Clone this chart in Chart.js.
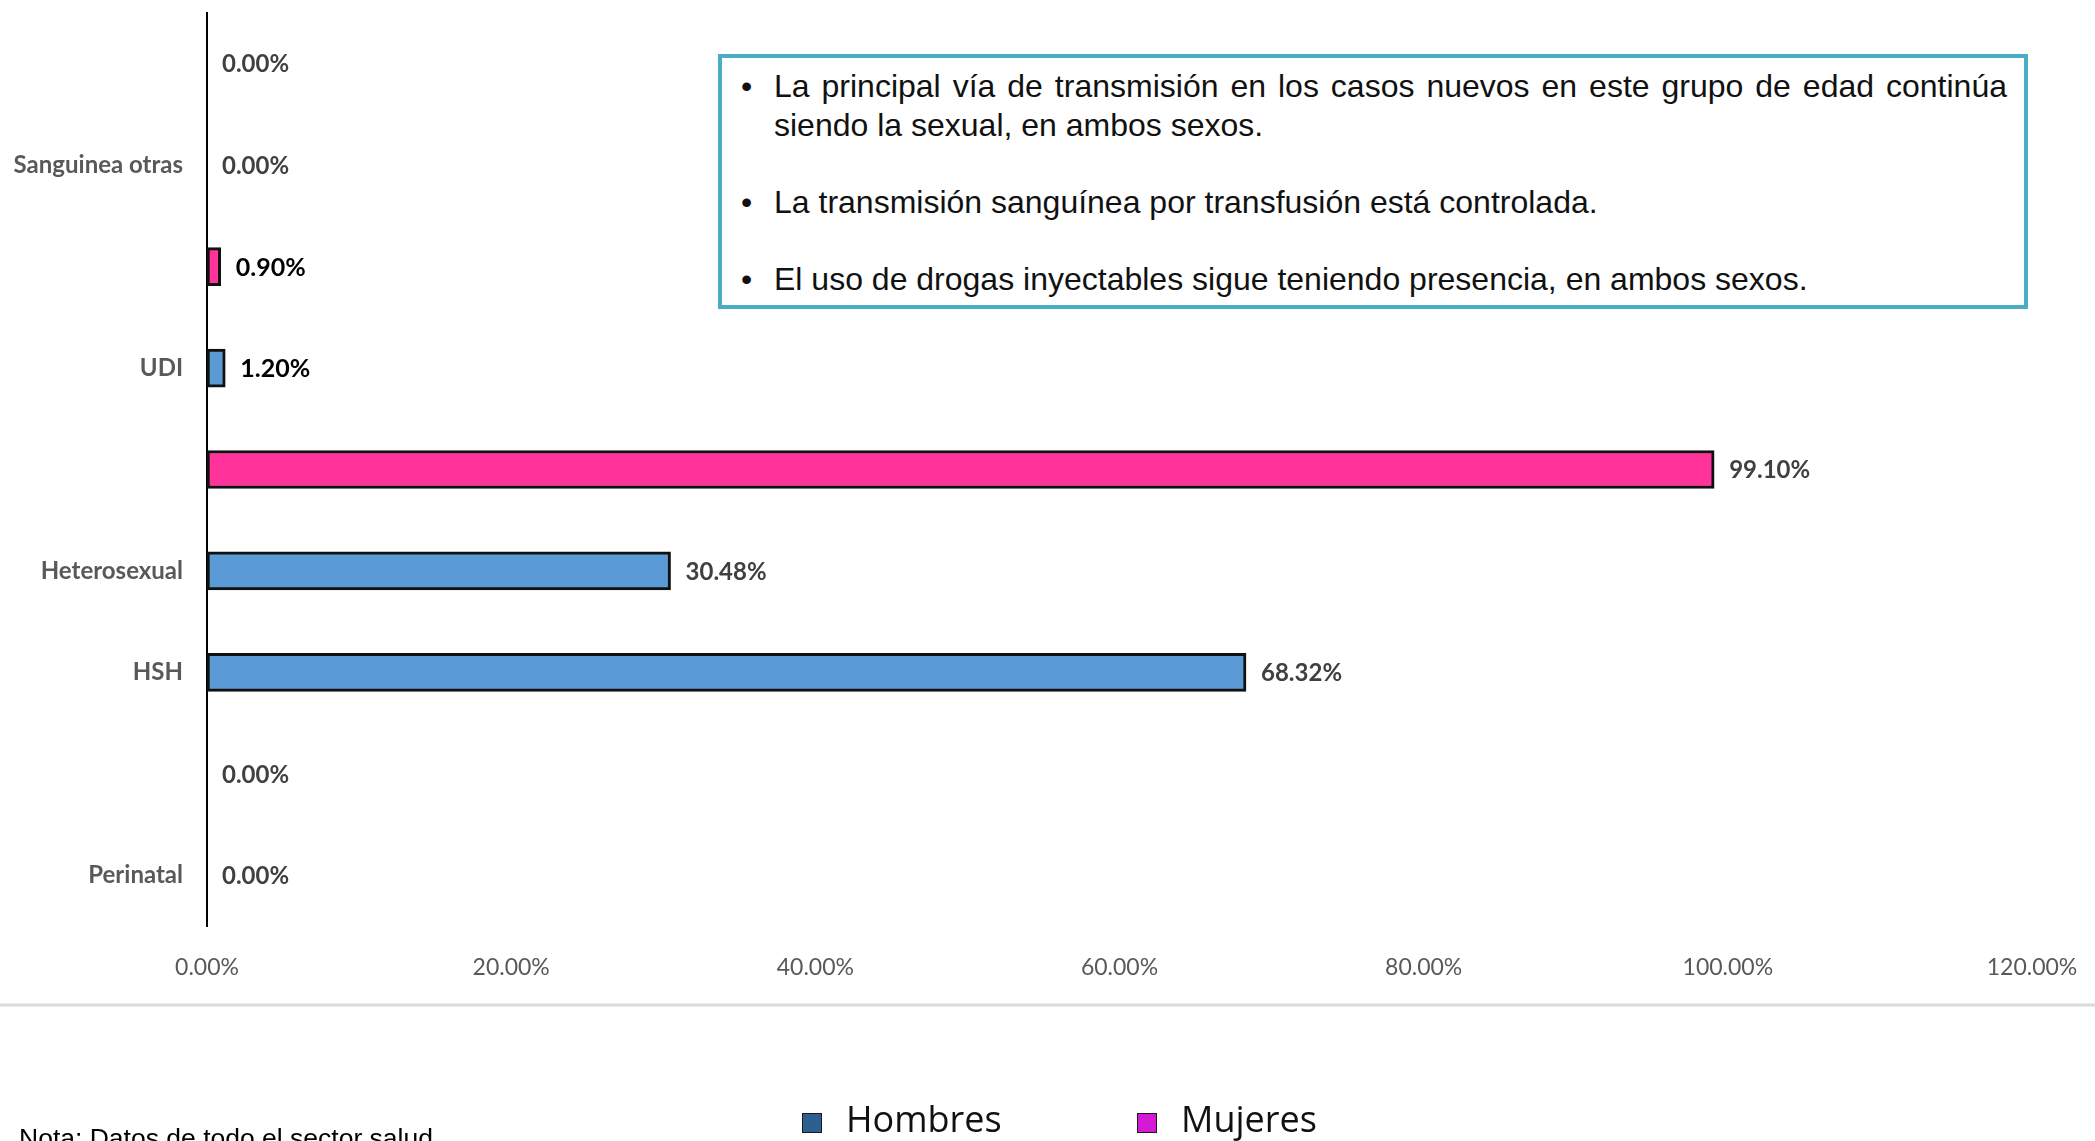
<!DOCTYPE html>
<html>
<head>
<meta charset="utf-8">
<script src="https://cdn.jsdelivr.net/npm/chart.js@4.4.1/dist/chart.umd.min.js"></script>
<style>
  body { margin: 0; background: #fff; }
  #wrap { position: relative; width: 2095px; height: 1141px; overflow: hidden; }
  #note {
    position: absolute; left: 718px; top: 54px; width: 1310px; height: 255px;
    box-sizing: border-box; border: 4px solid #4bacc6; background: #fff;
    font-family: "Liberation Sans", Arial, sans-serif; font-size: 32px; line-height: 38.5px;
    color: #111; padding: 9px 17px 0 52px;
  }
  #note p { margin: 0 0 38.5px 0; position: relative; text-align: justify; }
  #note p::before { content: "\2022"; position: absolute; left: -33px; }
  #note .l1 { display: block; text-align: justify; text-align-last: justify; white-space: nowrap; word-spacing: -3px; }
</style>
</head>
<body>
<div id="wrap">
  <canvas id="chart" width="2095" height="1141"></canvas>
  <div id="note">
    <p><span class="l1">La principal vía de transmisión en los casos nuevos en este grupo de edad continúa</span>siendo la sexual, en ambos sexos.</p>
    <p>La transmisión sanguínea por transfusión está controlada.</p>
    <p>El uso de drogas inyectables sigue teniendo presencia, en ambos sexos.</p>
  </div>
</div>
<script>
// rows from top to bottom, only some rows carry a label in the original
const categories = ['', 'Sanguinea otras', '', 'UDI', '', 'Heterosexual', 'HSH', '', 'Perinatal'];
const hombres = [null, 0, null, 1.2, null, 30.48, 68.32, null, 0];
const mujeres = [0, null, 0.9, null, 99.1, null, null, 0, null];
const xTicks = [0, 20, 40, 60, 80, 100, 120];
const noteText = 'Nota: Datos de todo el sector salud';

// small values are printed darker in the original
const darkLabels = ['0.90', '1.20'];

const overlay = {
    id: 'overlay',
    afterDatasetsDraw(chart) {
        const ctx = chart.ctx;
        ctx.save();
        ctx.textBaseline = 'middle';
        ctx.textAlign = 'left';
        chart.data.datasets.forEach((ds, i) => {
            const meta = chart.getDatasetMeta(i);
            meta.data.forEach((bar, j) => {
                const v = ds.data[j];
                if (v === null) return;
                const txt = v.toFixed(2) + '%';
                const dark = darkLabels.includes(v.toFixed(2));
                ctx.font = (dark ? 'bold 25px' : 'bold 24px') + ' Lato';
                ctx.fillStyle = dark ? '#000' : '#404040';
                ctx.fillText(txt, bar.x + 15, bar.y + 1);
            });
        });
        ctx.restore();
    },
    afterDraw(chart) {
        const ctx = chart.ctx;
        ctx.save();
        // separator line
        ctx.strokeStyle = '#d9d9d9';
        ctx.lineWidth = 3;
        ctx.beginPath();
        ctx.moveTo(0, 1005);
        ctx.lineTo(chart.width, 1005);
        ctx.stroke();

        // legend
        const legendItems = [
            { text: chart.data.datasets[0].label, color: '#2d5f90', x: 802 },
            { text: chart.data.datasets[1].label, color: '#d41ad4', x: 1137 }
        ];
        ctx.font = '36px "Open Sans"';
        ctx.textBaseline = 'middle';
        legendItems.forEach(it => {
            ctx.fillStyle = it.color;
            ctx.fillRect(it.x, 1113, 20, 20);
            ctx.strokeStyle = '#1a1a1a';
            ctx.lineWidth = 1;
            ctx.strokeRect(it.x + 0.5, 1113.5, 19, 19);
            ctx.fillStyle = '#111';
            ctx.fillText(it.text, it.x + 44, 1122);
        });

        // footnote, cut by the bottom edge as in the original
        ctx.font = '26.5px "Liberation Sans"';
        ctx.textBaseline = 'alphabetic';
        ctx.fillStyle = '#000';
        ctx.fillText(noteText, 19, 1147);
        ctx.restore();
    }
};

const ctx = document.getElementById('chart').getContext('2d');
new Chart(ctx, {
    type: 'bar',
    data: {
        labels: categories,
        datasets: [{
            label: 'Hombres',
            data: hombres,
            backgroundColor: '#5b9bd5',
            borderColor: '#111',
            borderWidth: 3,
            borderSkipped: false,
            barThickness: 38,
            skipNull: true
        }, {
            label: 'Mujeres',
            data: mujeres,
            backgroundColor: '#ff3399',
            borderColor: '#111',
            borderWidth: 3,
            borderSkipped: false,
            barThickness: 38,
            skipNull: true
        }]
    },
    options: {
        indexAxis: 'y',
        responsive: false,
        devicePixelRatio: 1,
        animation: false,
        layout: { padding: { top: 13, right: 63, bottom: 0, left: 0 } },
        scales: {
            x: {
                min: 0,
                max: 120,
                afterFit: s => { s.height = 215; s.paddingLeft = 0; s.paddingRight = 0; },
                afterBuildTicks: s => { s.ticks = xTicks.map(v => ({ value: v })); },
                grid: { display: false, drawTicks: false },
                border: { display: false },
                ticks: {
                    padding: 28,
                    color: '#595959',
                    font: { family: 'Lato', size: 23 },
                    callback: v => v.toFixed(2) + '%'
                }
            },
            y: {
                afterFit: s => { s.width = 207; s.paddingTop = 0; s.paddingBottom = 0; },
                grid: { display: false, drawTicks: false },
                border: { display: true, color: '#000', width: 2 },
                ticks: {
                    padding: 24,
                    color: '#595959',
                    font: { family: 'Lato', size: 24, weight: 'bold' }
                }
            }
        },
        plugins: {
            legend: { display: false },
            tooltip: { enabled: false }
        }
    },
    plugins: [overlay]
});
</script>
</body>
</html>
